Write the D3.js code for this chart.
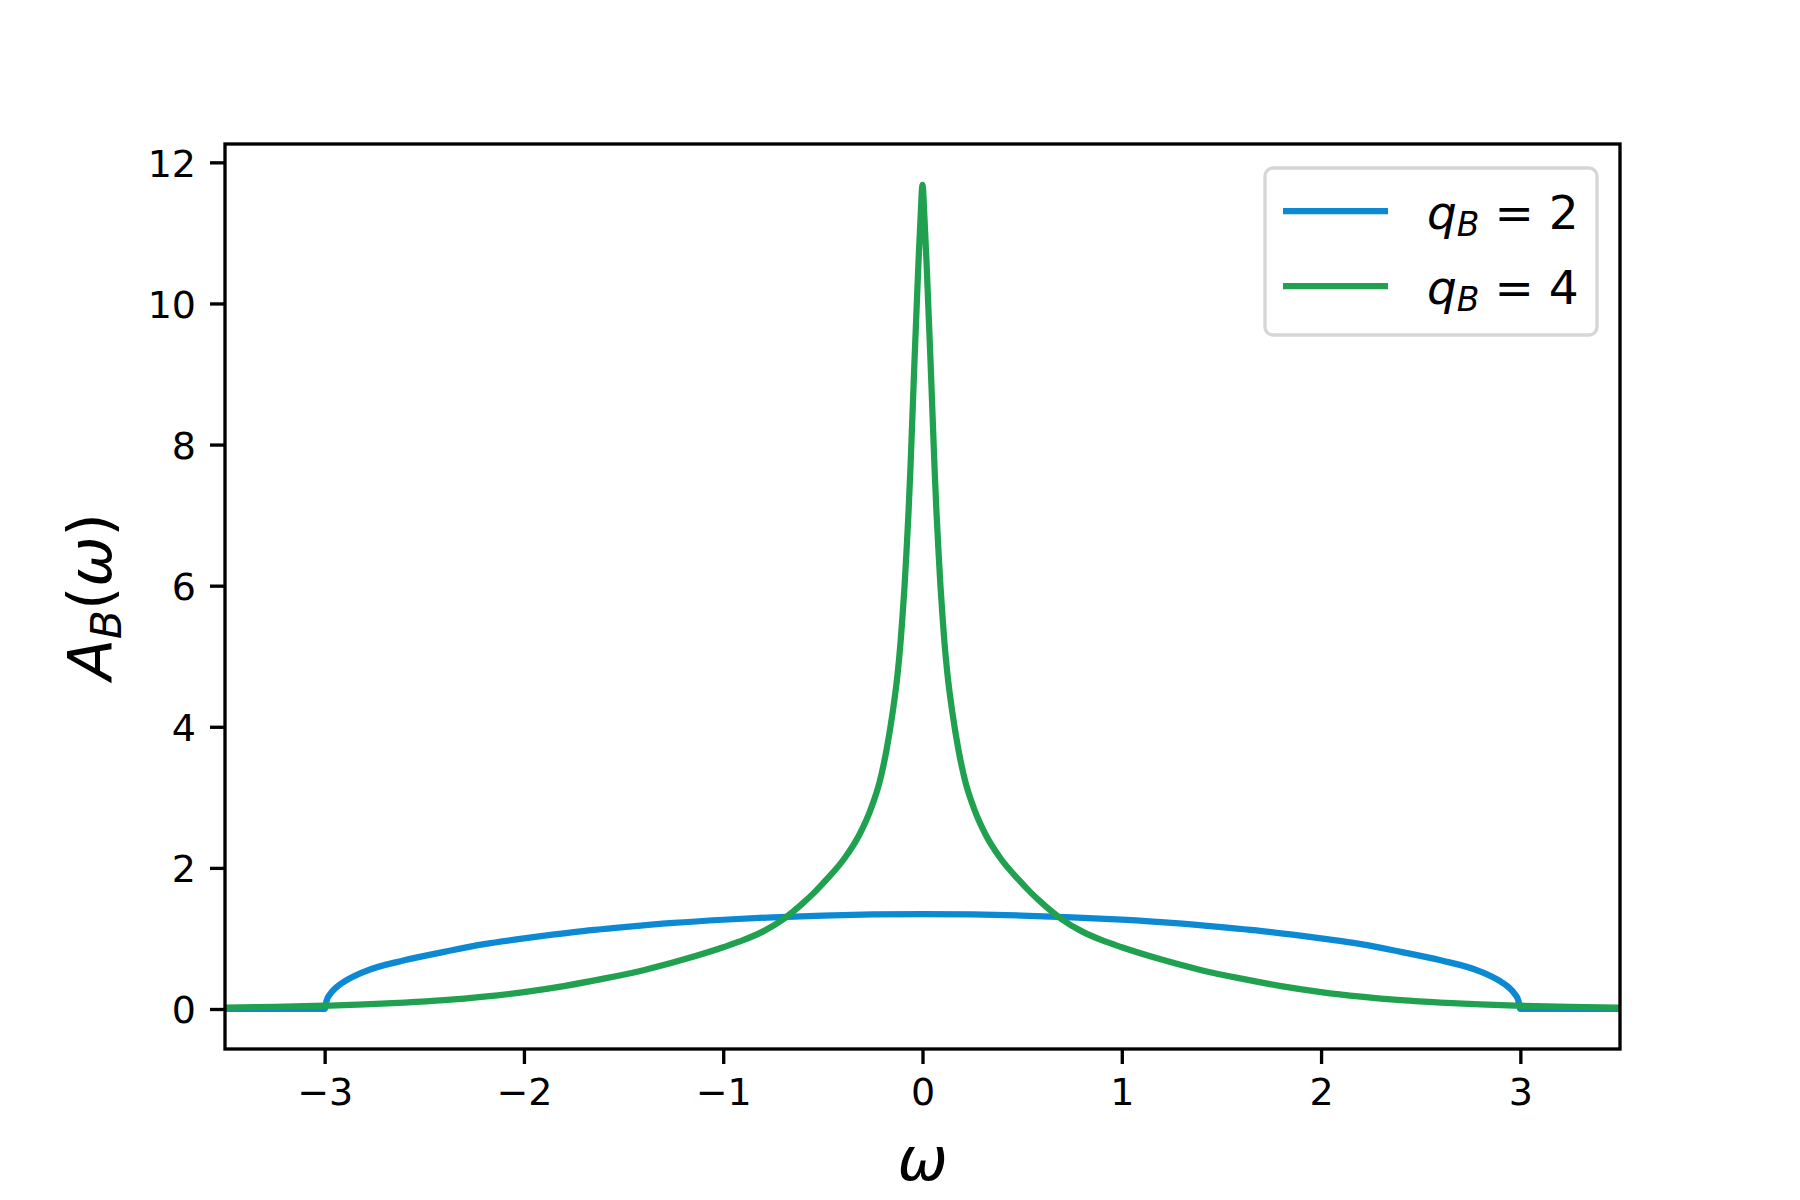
<!DOCTYPE html>
<html lang="en">

<head>
  <meta charset="utf-8">
  <title>A_B(omega)</title>
  <script src="https://cdn.jsdelivr.net/npm/d3@7"></script>
  <style>
    body { margin: 0; background: #fff; }
    text { font-family: "DejaVu Sans", sans-serif; fill: #000; }
  </style>
</head>

<body>
  <div class="chart"></div>

  <script type="text/javascript">
    var w = 1800,
      h = 1200;

    // values
    var omega2 = [-3.5, -3.0, -2.99, -2.97, -2.94, -2.9, -2.8, -2.6, -2.4, -2.2, -2.0, -1.75, -1.5, -1.25, -1.0, -0.75, -0.5, -0.25, 0,
      0.25, 0.5, 0.75, 1.0, 1.25, 1.5, 1.75, 2.0, 2.2, 2.4, 2.6, 2.8, 2.9, 2.94, 2.97, 2.99, 3.0, 3.5];
    var a2 = [0, 0, 0.12, 0.22, 0.31, 0.39, 0.53, 0.69, 0.81, 0.92, 1.0, 1.09, 1.16, 1.22, 1.265, 1.3, 1.325, 1.34, 1.345,
      1.34, 1.325, 1.3, 1.265, 1.22, 1.16, 1.09, 1.0, 0.92, 0.81, 0.69, 0.53, 0.39, 0.31, 0.22, 0.12, 0, 0];

    var omega4 = [-3.5, -3.25, -3.0, -2.8, -2.6, -2.4, -2.2, -2.0, -1.8, -1.6, -1.4, -1.2, -1.0, -0.9, -0.8, -0.695, -0.6, -0.54, -0.48,
      -0.393, -0.317, -0.26, -0.215, -0.18, -0.15, -0.125, -0.11, -0.1, -0.09, -0.08, -0.07, -0.06, -0.05, -0.04, -0.03, -0.02, -0.01, 0,
      0.01, 0.02, 0.03, 0.04, 0.05, 0.06, 0.07, 0.08, 0.09, 0.1, 0.11, 0.125, 0.15, 0.18, 0.215, 0.26, 0.317, 0.393,
      0.48, 0.54, 0.6, 0.695, 0.8, 0.9, 1.0, 1.2, 1.4, 1.6, 1.8, 2.0, 2.2, 2.4, 2.6, 2.8, 3.0, 3.25, 3.5];
    var a4 = [0.018, 0.03, 0.047, 0.065, 0.09, 0.125, 0.175, 0.24, 0.325, 0.43, 0.55, 0.70, 0.875, 0.975, 1.1, 1.28, 1.5, 1.66, 1.84,
      2.13, 2.47, 2.83, 3.22, 3.68, 4.2, 4.75, 5.2, 5.58, 6.0, 6.5, 7.05, 7.7, 8.45, 9.2, 9.9, 10.6, 11.2, 11.68,
      11.2, 10.6, 9.9, 9.2, 8.45, 7.7, 7.05, 6.5, 6.0, 5.58, 5.2, 4.75, 4.2, 3.68, 3.22, 2.83, 2.47, 2.13,
      1.84, 1.66, 1.5, 1.28, 1.1, 0.975, 0.875, 0.70, 0.55, 0.43, 0.325, 0.24, 0.175, 0.125, 0.09, 0.065, 0.047, 0.03, 0.018];

    var xTicks = [-3, -2, -1, 0, 1, 2, 3];
    var yTicks = [0, 2, 4, 6, 8, 10, 12];

    var series = [
      { label: "2", xs: omega2, ys: a2, color: "#0b89d3" },
      { label: "4", xs: omega4, ys: a4, color: "#20a150" }
    ];

    var plotL = 225, plotR = 1620, plotT = 144, plotB = 1049;

    var svg = d3.select('.chart')
      .append('svg')
      .attr('width', w)
      .attr('height', h);

    var x = d3.scaleLinear().domain([-3.5, 3.5]).range([plotL, plotR]);
    var y = d3.scaleLinear().domain([-0.567, 12.26]).range([plotB, plotT]);

    svg.append("clipPath").attr("id", "clip")
      .append("rect")
      .attr("x", plotL).attr("y", plotT)
      .attr("width", plotR - plotL).attr("height", plotB - plotT);

    var line = d3.line()
      .x(function(d) { return x(d[0]); })
      .y(function(d) { return y(d[1]); })
      .curve(d3.curveMonotoneX);

    series.forEach(function(s) {
      var pts = s.xs.map(function(v, i) { return [v, s.ys[i]]; });
      svg.append("path")
        .datum(pts)
        .attr("clip-path", "url(#clip)")
        .attr("d", line)
        .attr("fill", "none")
        .attr("stroke", s.color)
        .attr("stroke-width", 6.25)
        .attr("stroke-linejoin", "round");
    });

    // axes
    var fmt = d3.format("d");
    var xAxis = svg.append("g")
      .attr("transform", "translate(0," + plotB + ")")
      .call(d3.axisBottom(x).tickValues(xTicks).tickFormat(fmt).tickSize(15).tickPadding(14).tickSizeOuter(0));
    var yAxis = svg.append("g")
      .attr("transform", "translate(" + plotL + ",0)")
      .call(d3.axisLeft(y).tickValues(yTicks).tickFormat(fmt).tickSize(15).tickPadding(14).tickSizeOuter(0));

    [xAxis, yAxis].forEach(function(g) {
      g.select(".domain").remove();
      g.selectAll(".tick line").attr("stroke", "#000").attr("stroke-width", 3.33);
      g.selectAll(".tick text")
        .attr("font-family", "DejaVu Sans")
        .attr("font-size", 38)
        .attr("fill", "#000");
    });
    xAxis.selectAll(".tick text").attr("dy", "0.72em");
    yAxis.selectAll(".tick text").attr("dy", "0.36em");

    svg.append("rect")
      .attr("x", plotL).attr("y", plotT)
      .attr("width", plotR - plotL).attr("height", plotB - plotT)
      .attr("fill", "none")
      .attr("stroke", "#000")
      .attr("stroke-width", 3.33);

    // axis labels
    svg.append("text")
      .attr("x", (plotL + plotR) / 2)
      .attr("y", 1180)
      .attr("text-anchor", "middle")
      .attr("font-size", 60)
      .attr("font-style", "italic")
      .text("ω");

    var yl = svg.append("text")
      .attr("transform", "translate(111," + (plotT + plotB) / 2 + ") rotate(-90)")
      .attr("text-anchor", "middle")
      .attr("font-size", 60);
    yl.append("tspan").attr("font-style", "italic").text("A");
    yl.append("tspan").attr("font-style", "italic").attr("font-size", 42).attr("dy", 10).text("B");
    yl.append("tspan").attr("dy", -10).text("(");
    yl.append("tspan").attr("font-style", "italic").text("ω");
    yl.append("tspan").text(")");

    // legend
    var lg = svg.append("g");
    lg.append("rect")
      .attr("x", 1265).attr("y", 168)
      .attr("width", 332).attr("height", 167)
      .attr("rx", 8)
      .attr("fill", "#fff")
      .attr("stroke", "#d6d6d6")
      .attr("stroke-width", 3.33);

    series.forEach(function(s, i) {
      var yy = 211 + i * 75;
      lg.append("line")
        .attr("x1", 1283).attr("x2", 1388)
        .attr("y1", yy).attr("y2", yy)
        .attr("stroke", s.color)
        .attr("stroke-width", 6.25);
      var t = lg.append("text")
        .attr("x", 1427)
        .attr("y", yy + 18)
        .attr("font-size", 47);
      t.append("tspan").attr("font-style", "italic").text("q");
      t.append("tspan").attr("font-style", "italic").attr("font-size", 33).attr("dy", 7).text("B");
      t.append("tspan").attr("dy", -7).text(" = " + s.label);
    });
  </script>

</body>

</html>
